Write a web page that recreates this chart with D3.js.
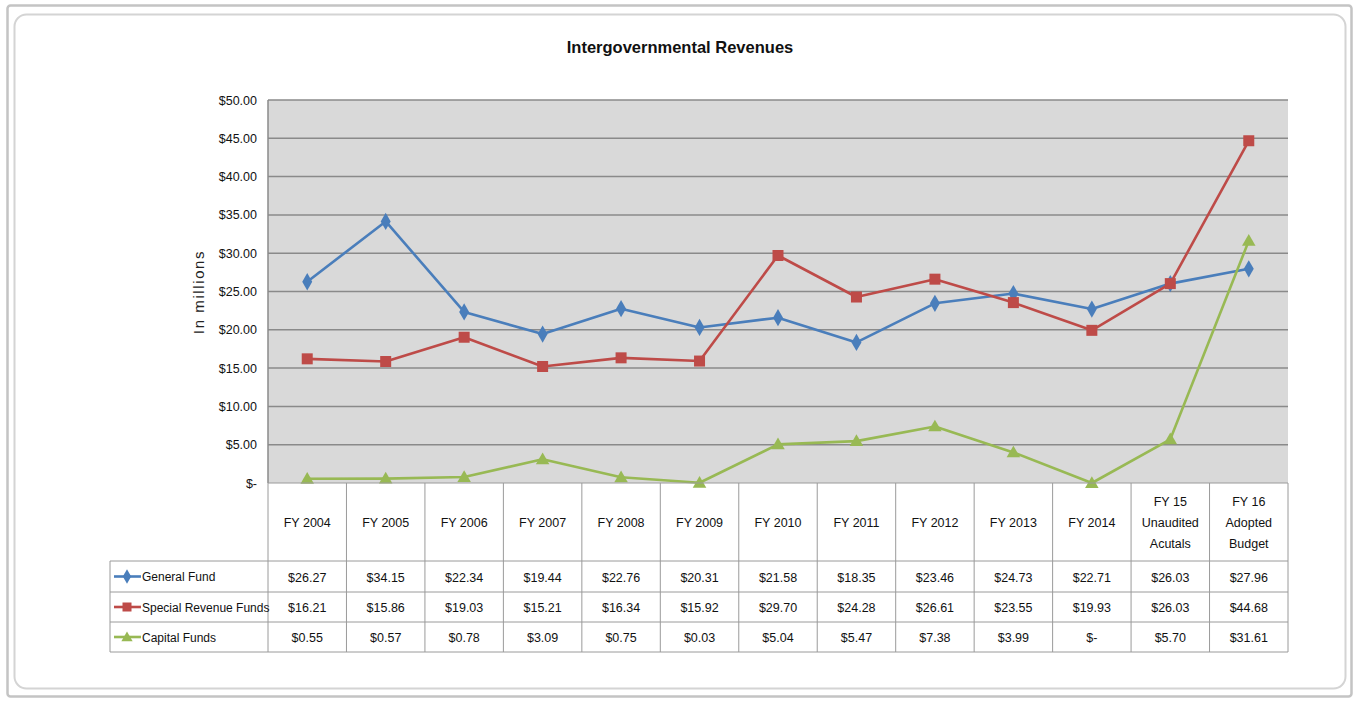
<!DOCTYPE html>
<html><head><meta charset="utf-8">
<script src="https://cdn.jsdelivr.net/npm/d3@7"></script>
<style>
html,body{margin:0;padding:0;background:#fff;}
svg{display:block;}
text{font-family:"Liberation Sans",Arial,sans-serif;}
</style></head>
<body>
<svg id="chart" width="1356" height="702"></svg>
<script>
const categories = ["FY 2004","FY 2005","FY 2006","FY 2007","FY 2008","FY 2009","FY 2010","FY 2011","FY 2012","FY 2013","FY 2014","FY 15\nUnaudited\nAcutals","FY 16\nAdopted\nBudget"];
const generalFund = [26.27,34.15,22.34,19.44,22.76,20.31,21.58,18.35,23.46,24.73,22.71,26.03,27.96];
const specialRevenueFunds = [16.21,15.86,19.03,15.21,16.34,15.92,29.70,24.28,26.61,23.55,19.93,26.03,44.68];
const capitalFunds = [0.55,0.57,0.78,3.09,0.75,0.03,5.04,5.47,7.38,3.99,0,5.70,31.61];
const seriesNames = ["General Fund","Special Revenue Funds","Capital Funds"];
const seriesColors = ["#4a7ebb","#be4b48","#98b954"];
const seriesShapes = ["diamond","square","triangle"];
const yTicks = [0,5,10,15,20,25,30,35,40,45,50];
const title = "Intergovernmental Revenues";
const yTitle = "In millions";

const series = [generalFund, specialRevenueFunds, capitalFunds];
const svg = d3.select("#chart");
const fmt = v => v === 0 ? "$-" : "$" + v.toFixed(2);
const FONT = '"Liberation Sans",Arial,sans-serif';

// frame
svg.append("rect").attr("x",7.5).attr("y",5.5).attr("width",1344).attr("height",691).attr("rx",3)
  .attr("fill","none").attr("stroke","#c4c4c4").attr("stroke-width",2.5);
svg.append("rect").attr("x",14.5).attr("y",14.5).attr("width",1331).attr("height",674).attr("rx",12)
  .attr("fill","#fff").attr("stroke","#d4d4d4").attr("stroke-width",2);

const L = 268, R = 1288, T = 100, B = 483;
const x = d3.scaleBand().domain(categories).range([L,R]);
const y = d3.scaleLinear().domain([0,50]).range([B,T]);

// title
svg.append("text").attr("x",680).attr("y",53).attr("text-anchor","middle")
  .attr("font-size",16.5).attr("font-weight","bold").attr("fill","#111").text(title);

// plot area
svg.append("rect").attr("x",L).attr("y",T).attr("width",R-L).attr("height",B-T).attr("fill","#d9d9d9");
svg.append("g").selectAll("line").data(yTicks.filter(d=>d>0)).join("line")
  .attr("x1",L).attr("x2",R).attr("y1",d=>y(d)).attr("y2",d=>y(d))
  .attr("stroke","#8a8a8a").attr("stroke-width",1.5);
svg.append("line").attr("x1",L).attr("x2",L).attr("y1",T).attr("y2",B).attr("stroke","#8a8a8a").attr("stroke-width",1.5);

// y axis
const yAxis = d3.axisLeft(y).tickValues(yTicks).tickFormat(fmt).tickSize(0).tickPadding(11);
const ya = svg.append("g").attr("transform",`translate(${L},0)`).call(yAxis);
ya.select(".domain").remove();
ya.selectAll("text").attr("font-size",12.5).attr("fill","#111").attr("font-family",FONT);

svg.append("text").attr("transform","translate(204,292) rotate(-90)").attr("text-anchor","middle")
  .attr("font-family","DejaVu Sans,sans-serif").attr("font-size",15).attr("letter-spacing",1.6).attr("fill","#222").text(yTitle);

// markers
function marker(g, shape, color, cx, cy, s) {
  if (shape==="diamond") g.append("path").attr("d",d3.symbol(d3.symbolDiamond, s*s*0.6)()).attr("transform",`translate(${cx},${cy})`).attr("fill",color);
  else if (shape==="square") g.append("rect").attr("x",cx-s/2).attr("y",cy-s/2).attr("width",s).attr("height",s).attr("fill",color);
  else g.append("path").attr("d",d3.symbol(d3.symbolTriangle, s*s*0.55)()).attr("transform",`translate(${cx},${cy+1})`).attr("fill",color);
}

const cx = c => x(c) + x.bandwidth()/2;
series.forEach((vals,i)=>{
  const line = d3.line().x((d,j)=>cx(categories[j])).y(d=>y(d));
  svg.append("path").datum(vals).attr("d",line).attr("fill","none")
    .attr("stroke",seriesColors[i]).attr("stroke-width",2.6).attr("stroke-linejoin","round");
  const g = svg.append("g");
  vals.forEach((v,j)=>marker(g, seriesShapes[i], seriesColors[i], cx(categories[j]), y(v), i===1?11:12));
});

// data table
const hdrTop = B, hdrBot = 561;
const rowTops = [561,592,622,652];
const legL = 110;
const tbl = svg.append("g");
const bc = "#9a9a9a";
tbl.append("line").attr("x1",L).attr("x2",R).attr("y1",hdrTop).attr("y2",hdrTop).attr("stroke",bc);
rowTops.forEach(t=>tbl.append("line").attr("x1",legL).attr("x2",R).attr("y1",t).attr("y2",t).attr("stroke",bc));
categories.forEach(c=>tbl.append("line").attr("x1",x(c)).attr("x2",x(c)).attr("y1",hdrTop).attr("y2",rowTops[3]).attr("stroke",bc));
tbl.append("line").attr("x1",R).attr("x2",R).attr("y1",hdrTop).attr("y2",rowTops[3]).attr("stroke",bc);
tbl.append("line").attr("x1",legL).attr("x2",legL).attr("y1",rowTops[0]).attr("y2",rowTops[3]).attr("stroke",bc);

categories.forEach(c=>{
  const lines = c.split("\n");
  const mid = (hdrTop+hdrBot)/2;
  const lh = 21;
  const t = tbl.append("text").attr("text-anchor","middle").attr("font-size",12.5).attr("fill","#111");
  lines.forEach((ln,k)=>t.append("tspan").attr("x",cx(c)).attr("y",mid + (k-(lines.length-1)/2)*lh + 5).text(ln));
});
series.forEach((vals,i)=>{
  const mid = (rowTops[i]+rowTops[i+1])/2;
  vals.forEach((v,j)=>tbl.append("text").attr("x",cx(categories[j])).attr("y",mid+5)
    .attr("text-anchor","middle").attr("font-size",12.5).attr("fill","#111").text(fmt(v)));
  tbl.append("line").attr("x1",114).attr("x2",141).attr("y1",mid).attr("y2",mid).attr("stroke",seriesColors[i]).attr("stroke-width",2.6);
  marker(tbl, seriesShapes[i], seriesColors[i], 127, mid, i===1?9:10);
  tbl.append("text").attr("x",142).attr("y",mid+4.5).attr("font-size",12).attr("fill","#111").text(seriesNames[i]);
});
</script>
</body></html>
